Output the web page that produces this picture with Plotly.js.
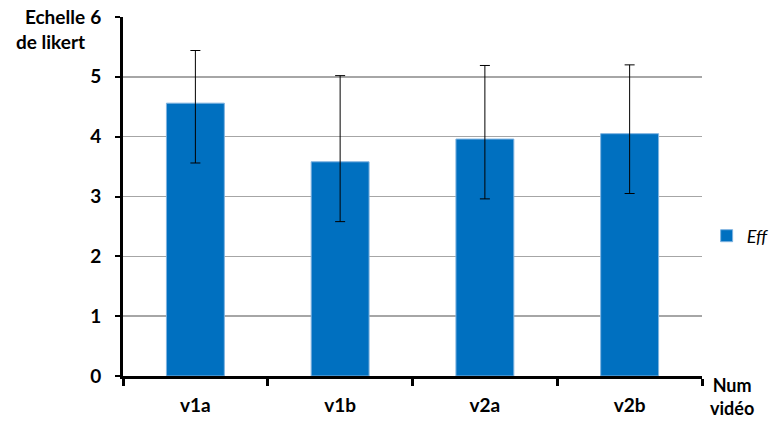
<!DOCTYPE html>
<html>
<head>
<meta charset="utf-8">
<script src="https://cdn.plot.ly/plotly-3.0.1.min.js"></script>
<style>html,body{margin:0;padding:0;background:#fff;}#chart{width:778px;height:421px;}</style>
</head>
<body>
<div id="chart"></div>
<script>
const categories = ["v1a", "v1b", "v2a", "v2b"];
const values = [4.56, 3.58, 3.96, 4.05];
const errPlus = [0.88, 1.44, 1.23, 1.15];
const errMinus = [1.0, 1.0, 1.0, 1.0];
const seriesName = "Eff";
const yTitle = "Echelle<br>de likert";
const xTitle = "Num<br>vidéo";

const FONT = "Lato, 'Open Sans', sans-serif";

const trace = {
  type: "bar",
  x: categories,
  y: values,
  name: seriesName,
  marker: {color: "#0070C0", line: {color: "#7fb3e0", width: 1}},
  error_y: {type: "data", symmetric: false, array: errPlus, arrayminus: errMinus,
            color: "#000", thickness: 1, width: 5},
  showlegend: true
};

const layout = {
  width: 778, height: 421,
  margin: {l: 123, r: 76, t: 17, b: 45, autoexpand: false},
  paper_bgcolor: "#fff", plot_bgcolor: "#fff",
  bargap: 0.6,
  font: {family: FONT, size: 19, color: "#000"},
  xaxis: {
    type: "category",
    tickson: "boundaries",
    ticks: "outside", ticklen: 7, tickwidth: 3, tickcolor: "#000",
    showline: true, linecolor: "#000", linewidth: 3,
    showgrid: false,
    tickfont: {family: FONT, size: 19, weight: "bold", color: "#000"},
    ticklabelstandoff: 10
  },
  yaxis: {
    range: [0, 6], dtick: 1, tick0: 0,
    ticks: "outside", ticklen: 5, tickwidth: 2, tickcolor: "#000",
    showline: true, linecolor: "#000", linewidth: 3,
    showgrid: true, gridcolor: "#a6a6a6", gridwidth: 1.5,
    zeroline: false,
    tickfont: {family: FONT, size: 19, weight: "bold", color: "#000"},
    ticklabelstandoff: 10
  },
  showlegend: true,
  legend: {
    x: 1.008, xanchor: "left", y: 0.39, yanchor: "middle",
    font: {family: FONT, size: 18, style: "italic", color: "#000"},
    itemwidth: 30, bgcolor: "rgba(0,0,0,0)"
  },
  annotations: [
    {text: yTitle, xref: "paper", yref: "paper", x: -0.062, y: 1.04,
     xanchor: "right", yanchor: "top", showarrow: false, align: "right",
     font: {family: FONT, size: 19, weight: "bold", color: "#000"}},
    {text: xTitle, xref: "paper", yref: "paper", x: 1.01, y: -0.124,
     xanchor: "left", yanchor: "bottom", showarrow: false, align: "center",
     font: {family: FONT, size: 18, weight: "bold", color: "#000"}}
  ]
};

Plotly.newPlot("chart", [trace], layout, {displayModeBar: false, staticPlot: true});
</script>
</body>
</html>
